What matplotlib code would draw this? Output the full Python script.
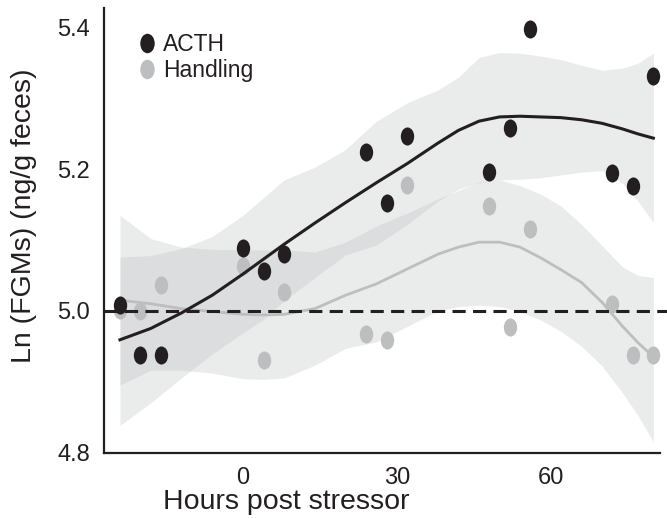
import numpy as np
import matplotlib
matplotlib.use("Agg")
import matplotlib.pyplot as plt
from matplotlib.path import Path
from matplotlib.transforms import Affine2D

plt.rcParams['font.family'] = ['Liberation Sans', 'DejaVu Sans']

# raw points (hours, ln FGMs)
hours = [-24, -20, -16, 0, 4, 8, 24, 28, 32, 48, 52, 56, 72, 76, 80]
acth = [5.008, 4.937, 4.937, 5.089, 5.056, 5.080, 5.225, 5.152, 5.247,
        5.196, 5.258, 5.398, 5.195, 5.176, 5.332]
handling = [5.001, 4.999, 5.037, 5.064, 4.931, 5.026, 4.967, 4.958, 5.178,
            5.148, 4.977, 5.116, 5.010, 4.937, 4.937]

# smoothed fits and confidence bands
fit_x = [-24, -18, -12, -6, 0, 4, 8, 14, 20, 26, 32, 38, 42, 46, 50, 54, 58, 62, 66, 70, 74, 77, 80]
acth_fit = [4.959, 4.975, 4.997, 5.022, 5.052, 5.073, 5.094, 5.124, 5.153, 5.181, 5.208,
            5.237, 5.255, 5.268, 5.274, 5.275, 5.274, 5.273, 5.270, 5.265, 5.257, 5.250, 5.244]
acth_hi = [5.076, 5.078, 5.088, 5.105, 5.135, 5.160, 5.185, 5.203, 5.228, 5.268, 5.294,
           5.312, 5.330, 5.358, 5.365, 5.364, 5.360, 5.355, 5.347, 5.340, 5.343, 5.350, 5.364]
acth_lo = [4.838, 4.870, 4.905, 4.939, 4.969, 4.988, 5.014, 5.047, 5.079, 5.093, 5.122,
           5.155, 5.172, 5.181, 5.185, 5.186, 5.188, 5.192, 5.196, 5.198, 5.180, 5.155, 5.125]
hand_fit = [5.015, 5.010, 5.003, 4.999, 4.995, 4.994, 4.995, 5.003, 5.022, 5.038, 5.059,
            5.080, 5.090, 5.097, 5.097, 5.090, 5.075, 5.058, 5.040, 5.012, 4.978, 4.955, 4.935]
hand_hi = [5.135, 5.102, 5.090, 5.087, 5.086, 5.086, 5.086, 5.083, 5.097, 5.120, 5.138,
           5.158, 5.170, 5.182, 5.185, 5.177, 5.165, 5.148, 5.122, 5.092, 5.062, 5.050, 5.047]
hand_lo = [4.895, 4.916, 4.916, 4.912, 4.904, 4.903, 4.905, 4.923, 4.947, 4.956, 4.978,
           5.000, 5.006, 5.008, 5.006, 4.999, 4.987, 4.971, 4.950, 4.922, 4.884, 4.852, 4.815]

dark = '#231f20'
light = '#bcbec0'

# points in the source are slightly taller than wide
ellipse = Path.unit_circle().transformed(Affine2D().scale(0.74, 1.0))

fig = plt.figure(figsize=(6.67, 5.18), dpi=100)
ax = fig.add_axes([0.156, 0.1255, 0.8335, 0.8591])

ax.fill_between(fit_x, hand_lo, hand_hi, color=light, alpha=0.3, lw=0, zorder=1)
ax.fill_between(fit_x, acth_lo, acth_hi, color=light, alpha=0.3, lw=0, zorder=1)
ax.plot(fit_x, hand_fit, color=light, lw=2.0, zorder=2)
ax.plot(hours, handling, ls='none', marker=ellipse, ms=13, color=light, mew=0,
        zorder=3, label='Handling')
ax.axhline(5.0, xmin=0, xmax=1.012, color=dark, lw=2.2, ls=(0, (4.3, 2.4)),
           clip_on=False, zorder=4)
ax.plot(fit_x, acth_fit, color=dark, lw=2.2, zorder=5)
ax.plot(hours, acth, ls='none', marker=ellipse, ms=13, color=dark, mew=0,
        zorder=6, label='ACTH')

ax.set_xlim(-27.1, 81.3)
ax.set_ylim(4.799, 5.428)
ax.set_xticks([0, 30, 60])
ax.set_yticks([4.8, 5.0, 5.2, 5.4])
ax.set_yticklabels(['4.8', '5.0', '5.2', '5.4'])
ax.tick_params(length=0, pad=10, labelsize=17, colors=dark)

for s in ['top', 'right']:
    ax.spines[s].set_visible(False)
for s in ['left', 'bottom']:
    ax.spines[s].set_linewidth(1.6)
    ax.spines[s].set_color(dark)

ax.set_xlabel('Hours post stressor', fontsize=20.5, color=dark)
ax.set_ylabel('Ln (FGMs) (ng/g feces)', fontsize=20.5, color=dark)
ax.xaxis.set_label_coords(0.328, -0.081)
ax.yaxis.set_label_coords(-0.12, 0.533)

h, l = ax.get_legend_handles_labels()
ax.legend(h[::-1], l[::-1], loc='upper left', bbox_to_anchor=(0.028, 0.98),
          frameon=False, fontsize=16.5, handletextpad=0.2, labelspacing=0.15,
          handlelength=1.0, borderpad=0.2, labelcolor=dark, markerscale=1.08)

fig.savefig('out.png', dpi=100)
